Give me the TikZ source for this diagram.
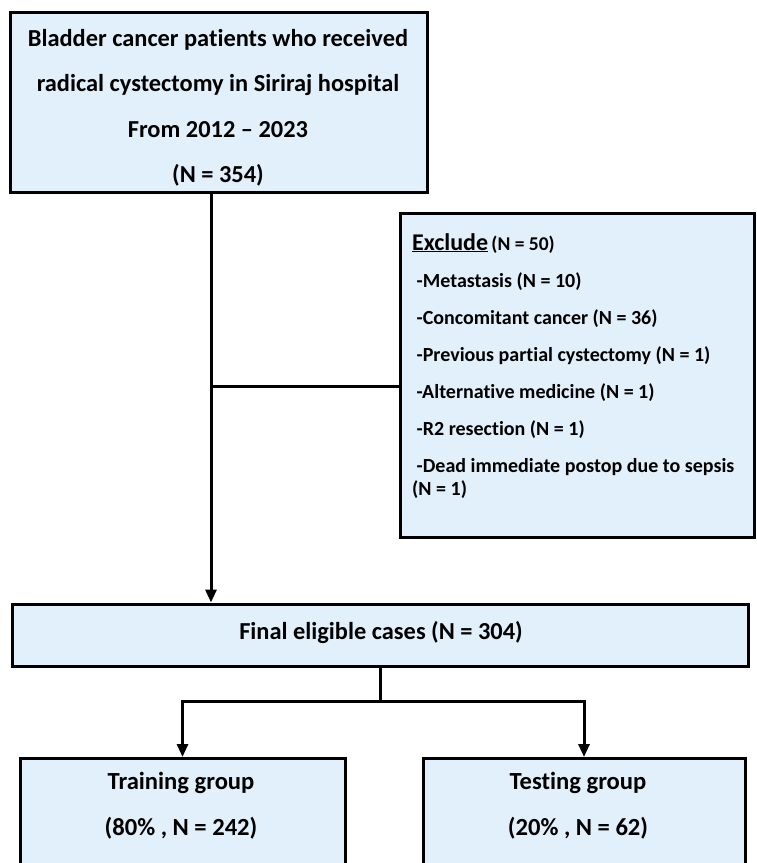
\documentclass[tikz,border=0pt]{standalone}
\usepackage{fontspec}
\setmainfont{Carlito}[Ligatures=NoCommon]
\usetikzlibrary{arrows.meta}
\definecolor{boxfill}{RGB}{225,240,250}
\begin{document}
\begin{tikzpicture}[x=1pt,y=-1pt,
  box/.style={draw=black, line width=3pt, fill=boxfill, rectangle, inner sep=0pt},
  conn/.style={line width=3pt},
  arr/.style={line width=3pt, -{Triangle[length=13pt,width=11pt]}},
  txt/.style={inner sep=0pt, align=center, font=\bfseries}]
\clip (0,0) rectangle (756,863);
\fill[white] (0,0) rectangle (756,863);

% boxes
\node[box, minimum width=417pt, minimum height=180pt] (top) at (218.5,102.5) {};
\node[txt, font=\fontsize{24.4}{45.5}\selectfont\bfseries] (toptext) at (218,108)
  {Bladder cancer patients who received\\radical cystectomy in Siriraj hospital\\From 2012 -- 2023\\(N = 354)};

\node[box, minimum width=354pt, minimum height=324pt] (excl) at (577,375) {};
\node[inner sep=0pt, anchor=north west, align=left, font=\fontsize{20}{37}\selectfont\bfseries] (excltext) at (412,233)
  {{\fontsize{24}{37}\selectfont\underline{Exclude}}\,{\fontsize{19.5}{37}\selectfont(N = 50)}\\
   \ -Metastasis (N = 10)\\
   \ -Concomitant cancer (N = 36)\\
   \ -Previous partial cystectomy (N = 1)\\
   \ -Alternative medicine (N = 1)\\
   \ -R2 resection (N = 1)\\
   \ -Dead immediate postop due to sepsis\\[-14pt]
   (N = 1)};

\node[box, minimum width=736pt, minimum height=62pt] (final) at (380,635) {};
\node[txt, font=\fontsize{24.4}{26}\selectfont\bfseries] (finaltext) at (381,633) {Final eligible cases (N = 304)};

\node[box, anchor=north, minimum width=325pt, minimum height=160pt] (train) at (182.5,757) {};
\node[txt, font=\fontsize{24.6}{46}\selectfont\bfseries] (traintext) at (181,806) {Training group\\(80\% , N = 242)};

\node[box, anchor=north, minimum width=322pt, minimum height=160pt] (test) at (584,757) {};
\node[txt, font=\fontsize{24.6}{46}\selectfont\bfseries] (testtext) at (578,806) {Testing group\\(20\% , N = 62)};

% connectors
\coordinate (vx) at (211,0);
\coordinate (by) at (0,386);
\draw[arr] (vx |- top.south) -- (vx |- final.north);
\draw[conn] (vx |- by) -- (excl.west |- by);
\draw[conn] (final.south) -- ++(0,34) coordinate (split);
\draw[arr] (split) -| (train.north);
\draw[arr] (split) -| (test.north);
\end{tikzpicture}
\end{document}
